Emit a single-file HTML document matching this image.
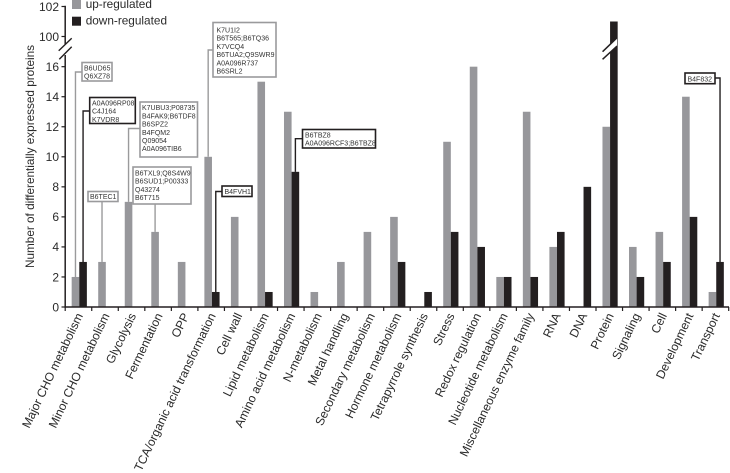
<!DOCTYPE html>
<html lang="en">
<head>
<meta charset="utf-8">
<title>Differentially expressed proteins</title>
<style>
html,body{margin:0;padding:0;background:#fff;}
svg{display:block;font-family:"Liberation Sans",sans-serif;}
.box{fill:#fff;stroke-width:1.6;}
.g{stroke:#9a9a9c;}
.k{stroke:#231f20;}
.t{font-size:7px;fill:#333;}
</style>
</head>
<body>
<svg id="chart" width="730" height="473" viewBox="0 0 730 473" xmlns="http://www.w3.org/2000/svg">
  <g id="bars"></g>
  <g id="axes"></g>
  <g id="labels"></g>
  <g id="leaders"></g>

  <text transform="translate(34,268) rotate(-90)" font-size="11.8" fill="#2a2a2a" textLength="223" lengthAdjust="spacingAndGlyphs">Number of differentially expressed proteins</text>

  <g>
    <rect x="72" y="0" width="9" height="9" fill="#97979b"/>
    <text x="85.7" y="8" font-size="11.8" fill="#2a2a2a">up-regulated</text>
    <rect x="72" y="16.7" width="9" height="9" fill="#231f20"/>
    <text x="85.7" y="24.5" font-size="11.8" fill="#2a2a2a">down-regulated</text>
  </g>

  <g>
    <rect class="box g" x="82" y="62.5" width="30" height="18.5"/>
    <text class="t" x="84" y="70.5">B6UD65</text>
    <text class="t" x="84" y="78.7">Q6XZ78</text>
  </g>
  <g>
    <rect class="box k" x="89.7" y="97.5" width="45.6" height="26"/>
    <text class="t" x="92" y="105.5">A0A096RP08</text>
    <text class="t" x="92" y="113.7">C4J164</text>
    <text class="t" x="92" y="121.9">K7VDR8</text>
  </g>
  <g>
    <rect class="box g" x="88" y="191.5" width="30" height="10"/>
    <text class="t" x="90" y="199">B6TEC1</text>
  </g>
  <g>
    <rect class="box g" x="140" y="102" width="57.5" height="55"/>
    <text class="t" x="142" y="110.2">K7UBU3;P08735</text>
    <text class="t" x="142" y="118.4">B4FAK9;B6TDF8</text>
    <text class="t" x="142" y="126.6">B6SPZ2</text>
    <text class="t" x="142" y="134.8">B4FQM2</text>
    <text class="t" x="142" y="143">Q09054</text>
    <text class="t" x="142" y="151.2">A0A096TIB6</text>
  </g>
  <g>
    <rect class="box g" x="133" y="167" width="58" height="37"/>
    <text class="t" x="135" y="175.5">B6TXL9;Q8S4W9</text>
    <text class="t" x="135" y="183.7">B6SUD1;P00333</text>
    <text class="t" x="135" y="191.9">Q43274</text>
    <text class="t" x="135" y="200.1">B6T715</text>
  </g>
  <g>
    <rect class="box g" x="213" y="22.5" width="63" height="54.5"/>
    <text class="t" x="216.5" y="32.5">K7U1I2</text>
    <text class="t" x="216.5" y="40.7">B6T565;B6TQ36</text>
    <text class="t" x="216.5" y="48.9">K7VCQ4</text>
    <text class="t" x="216.5" y="57.1">B6TUA2;Q9SWR9</text>
    <text class="t" x="216.5" y="65.3">A0A096R737</text>
    <text class="t" x="216.5" y="73.5">B6SRL2</text>
  </g>
  <g>
    <rect class="box k" x="222" y="186" width="30" height="10.5"/>
    <text class="t" x="224.5" y="194">B4FVH1</text>
  </g>
  <g>
    <rect class="box k" x="302.5" y="129.5" width="73" height="18.5"/>
    <text class="t" x="305" y="137.5">B6TBZ8</text>
    <text class="t" x="305" y="145.7">A0A096RCF3;B6TBZ8</text>
  </g>
  <g>
    <rect class="box k" x="685" y="73" width="30" height="10.7"/>
    <text class="t" x="687.5" y="81.3">B4F832</text>
  </g>
</svg>
<script>
var categories = ["Major CHO metabolism","Minor CHO metabolism","Glycolysis","Fermentation","OPP","TCA/organic acid transformation","Cell wall","Lipid metabolism","Amino acid metabolism","N-metabolism","Metal handling","Secondary metabolism","Hormone metabolism","Tetrapyrrole synthesis","Stress","Redox regulation","Nucleotide metabolism","Miscellaneous enzyme family","RNA","DNA","Protein","Signaling","Cell","Development","Transport"];
var upRegulated = [2,3,7,5,3,10,6,15,13,1,3,5,6,0,11,16,2,13,4,0,12,4,5,14,1];
var downRegulated = [3,0,0,0,0,1,0,1,9,0,0,0,3,1,5,4,2,2,5,8,101,2,3,6,3];
var yTickLabels = [0,2,4,6,8,10,12,14,16,100,102];

var NS = "http://www.w3.org/2000/svg";
var GRAY = "#97979b", BLACK = "#231f20";
var X0 = 66, STEP = 26.54, BAR_W = 7.6, BASE_Y = 307;

function xCenter(i){ return X0 + (i + 0.5) * STEP; }
function xTick(i){ return X0 + i * STEP; }
function yScale(v){
  if (v >= 50) { return 36.5 - (v - 100) * 15; }
  return BASE_Y - v * 15.02;
}
function make(tag, parent){
  var el = document.createElementNS(NS, tag);
  parent.appendChild(el);
  return el;
}
function setAll(el, attrs){
  for (var k in attrs) { el.setAttribute(k, attrs[k]); }
}

var barsG = document.getElementById("bars");
var axesG = document.getElementById("axes");
var labelsG = document.getElementById("labels");
var leadersG = document.getElementById("leaders");

categories.forEach(function(name, i){
  var c = xCenter(i);
  if (upRegulated[i] > 0) {
    var u = make("rect", barsG);
    
    
    setAll(u, {x: c - BAR_W, y: yScale(upRegulated[i]), width: BAR_W, height: BASE_Y - yScale(upRegulated[i]), fill: GRAY});
  }
  if (downRegulated[i] > 0) {
    var d = make("rect", barsG);
    
    
    setAll(d, {x: c, y: yScale(downRegulated[i]), width: BAR_W, height: BASE_Y - yScale(downRegulated[i]), fill: BLACK});
  }
  var t = make("text", labelsG);
  
  
  setAll(t, {"text-anchor": "end", "font-size": "12.1", fill: "#2a2a2a",
    transform: "translate(" + (c + 4) + ",315.5) rotate(-64.5)"});
  t.textContent = name;
});

function line(parent, x1, y1, x2, y2, color, w){
  var l = make("line", parent);
  setAll(l, {x1: x1, y1: y1, x2: x2, y2: y2, stroke: color, "stroke-width": w});
  return l;
}

/* protein-bar break */
var proteinIndex = categories.indexOf("Protein");
var pc = xCenter(proteinIndex);
var gap = make("polygon", barsG);


setAll(gap, {points: (pc-7)+",51 "+(pc+7)+",38 "+(pc+7)+",46 "+(pc-7)+",59", fill: "#fff"});
var b1 = line(axesG, pc-7.5, 51.7, pc+7, 37.7, BLACK, 1.5);


var b2 = line(axesG, pc-7.5, 59.3, pc+7, 46, BLACK, 1.5);



/* axes */
var yLower = line(axesG, 65.2, BASE_Y + 0.7, 65.2, 55, BLACK, 1.5);


var yUpper = line(axesG, 65.2, 44, 65.2, yScale(102) - 0.7, BLACK, 1.5);


var br1 = line(axesG, 58.7, 50.7, 71.7, 38.3, BLACK, 1.4);


var br2 = line(axesG, 59.3, 59.3, 71.7, 46.7, BLACK, 1.4);


var xAxis = line(axesG, 64.5, BASE_Y, 729, BASE_Y, BLACK, 1.5);



for (var i = 0; i <= categories.length; i++) {
  var xt = line(axesG, xTick(i) - 0.8, BASE_Y, xTick(i) - 0.8, 311, BLACK, 1.2);
  
  
}
yTickLabels.forEach(function(v){
  var y = yScale(v);
  var tk = line(axesG, 61.5, y, 65.5, y, BLACK, 1.2);
  
  
  var tx = make("text", axesG);
  
  
  setAll(tx, {x: 59, y: y + 4.3, "text-anchor": "end", "font-size": "12", fill: "#2a2a2a"});
  tx.textContent = v;
});

/* leader lines: rise from the annotated bar top to the elbow, then reach the box */
function leader(category, series, elbowY, boxX){
  var idx = categories.indexOf(category);
  var isUp = series === "up";
  var x = xCenter(idx) + (isUp ? -BAR_W / 2 : BAR_W / 2);
  var top = yScale(isUp ? upRegulated[idx] : downRegulated[idx]);
  var p = make("polyline", leadersG);
  
  
  var pts = x + "," + top + " " + x + "," + elbowY;
  if (boxX !== null) { pts += " " + boxX + "," + elbowY; }
  setAll(p, {points: pts, fill: "none", stroke: isUp ? "#9a9a9c" : BLACK, "stroke-width": 1.4});
}
leader("Major CHO metabolism", "up", 72, 82);
leader("Major CHO metabolism", "down", 111, 89.7);
leader("Minor CHO metabolism", "up", 202, null);
leader("Glycolysis", "up", 128.5, 140);
leader("Fermentation", "up", 204, null);
leader("TCA/organic acid transformation", "up", 50, 213);
leader("TCA/organic acid transformation", "down", 191.5, 222);
leader("Amino acid metabolism", "down", 138.7, 302.5);
leader("Transport", "down", 78, 715);
</script>
</body>
</html>
